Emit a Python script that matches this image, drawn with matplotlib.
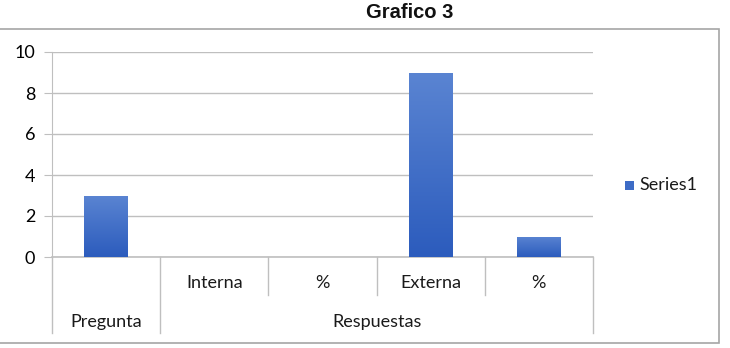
import matplotlib
matplotlib.use("Agg")
import matplotlib.pyplot as plt
import numpy as np
from matplotlib.patches import Rectangle
from matplotlib.lines import Line2D
from matplotlib.colors import LinearSegmentedColormap

title = "Grafico 3"
categories = ["", "Interna", "%", "Externa", "%"]
groups = [("Pregunta", 0, 0), ("Respuestas", 1, 4)]
values = [3, 0, 0, 9, 1]
series_name = "Series1"
yticks = [0, 2, 4, 6, 8, 10]

W, H = 730, 348
fig = plt.figure(figsize=(W / 100, H / 100), dpi=100)
plt.rcParams['font.family'] = ['Lato', 'DejaVu Sans']
FS = 13

L, R, B, T = 52, 593, 257, 52
ax = fig.add_axes([L / W, 1 - B / H, (R - L) / W, (B - T) / H])
ax.set_xlim(-0.5, len(categories) - 0.5)
ax.set_ylim(0, 10)
for s in ["top", "right", "bottom"]:
    ax.spines[s].set_visible(False)
ax.spines["left"].set_color("#bfbfbf")
ax.set_yticks(yticks)
ax.tick_params(axis="y", length=6, color="#bfbfbf", labelsize=FS, pad=6)
ax.set_xticks([])
ax.yaxis.grid(True, color="#bfbfbf", lw=1)
ax.set_axisbelow(True)

x = np.arange(len(categories))
bars = ax.bar(x, values, width=0.4, color="#3d6cc6", zorder=2)
grad = np.linspace(0, 1, 100).reshape(-1, 1)
cmap = LinearSegmentedColormap.from_list("g", ["#2c5cbd", "#5a84d2"])
for b in bars:
    h = b.get_height()
    if h <= 0:
        continue
    x0 = b.get_x()
    im = ax.imshow(grad, extent=(x0, x0 + b.get_width(), 0, h), origin="lower",
                   cmap=cmap, aspect="auto", zorder=3)
    im.set_clip_path(b)
ax.set_xlim(-0.5, len(categories) - 0.5)
ax.set_ylim(0, 10)

# multi-level axis labels
trans = ax.get_xaxis_transform()
px = 1 / (B - T)
row1_bottom = -(295 - B) * px
row2_bottom = -(333 - B) * px
lc = "#bfbfbf"
ax.add_line(Line2D([-0.5, -0.5], [0, row2_bottom], transform=trans, color=lc, lw=1, clip_on=False))
ax.add_line(Line2D([-0.5, len(categories) - 0.5], [0, 0], transform=trans, color=lc, lw=1.2, clip_on=False))
for name, i0, i1 in groups:
    ax.add_line(Line2D([i1 + 0.5, i1 + 0.5], [0, row2_bottom], transform=trans, color=lc, lw=1, clip_on=False))
    for i in range(i0, i1):
        ax.add_line(Line2D([i + 0.5, i + 0.5], [0, row1_bottom], transform=trans, color=lc, lw=1, clip_on=False))
    ax.text((i0 + i1) / 2, -(322 - B) * px, name, transform=trans, ha="center", va="center", fontsize=FS, color="#1a1a1a")
for i, c in enumerate(categories):
    if c:
        ax.text(i, -(283 - B) * px, c, transform=trans, ha="center", va="center", fontsize=FS, color="#1a1a1a")

# legend
fig.patches.append(Rectangle((625 / W, 1 - 190 / H), 9 / W, 9 / H, transform=fig.transFigure,
                             facecolor="#3d6cc6", edgecolor="none"))
fig.text(639 / W, 1 - 185 / H, series_name, ha="left", va="center", fontsize=FS, color="#1a1a1a")

# chart frame
fig.patches.append(Rectangle((-2 / W, 1 - 343 / H), 721 / W, 314 / H, transform=fig.transFigure,
                             facecolor="none", edgecolor="#a6a6a6", lw=1.2))

fig.text(410 / W, 1 - 12 / H, title, ha="center", va="center", fontsize=14.5, fontweight="bold",
         family=["Liberation Sans", "DejaVu Sans"], color="#111111")

fig.savefig("out.png", dpi=100)
